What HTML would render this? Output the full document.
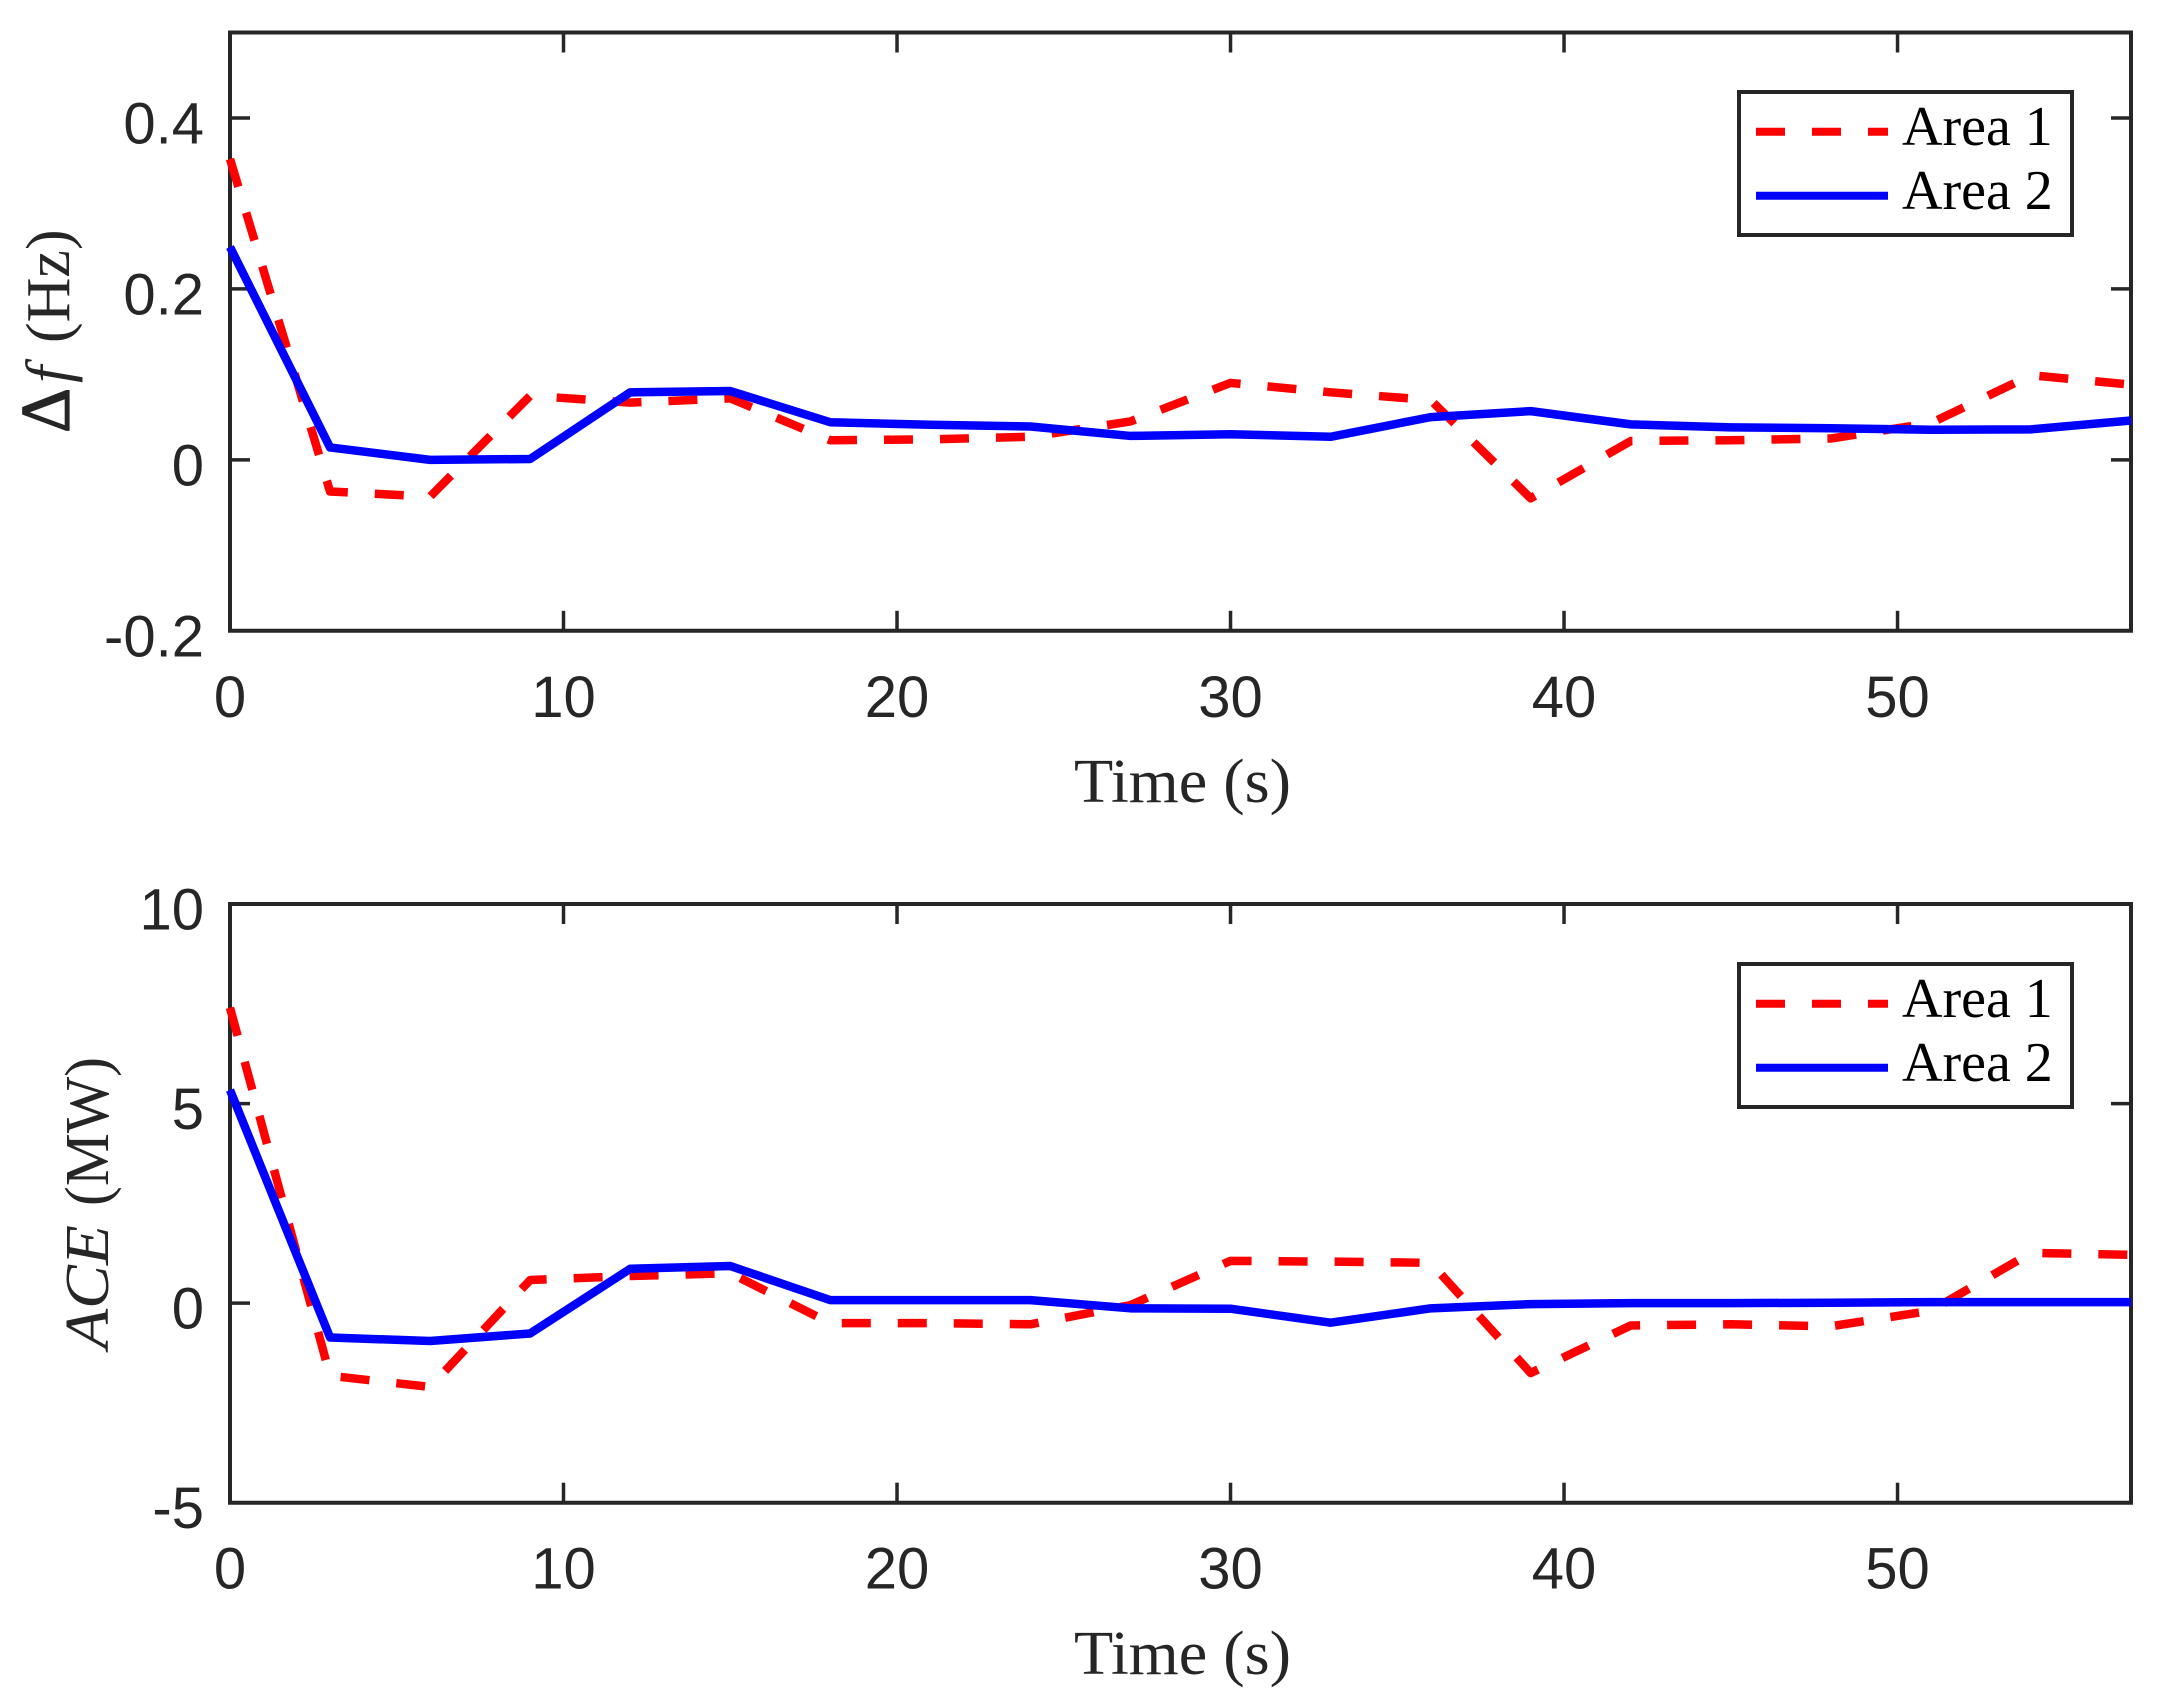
<!DOCTYPE html>
<html lang="en">
<head>
<meta charset="utf-8">
<title>Frequency deviation and ACE</title>
<style>
  html, body { margin: 0; padding: 0; background: #ffffff; }
  body { width: 2162px; height: 1702px; overflow: hidden; }
  svg { display: block; }
  .tick-label { font-family: "Liberation Sans", sans-serif; font-size: 58px; fill: #262626; }
  .axis-title { font-family: "Liberation Serif", serif; font-size: 62px; fill: #262626; }
  .legend-label { font-family: "Liberation Serif", serif; font-size: 56px; fill: #000000; }
</style>
</head>
<body>
<svg id="chart" xmlns="http://www.w3.org/2000/svg" width="2162" height="1702" viewBox="0 0 2162 1702">
  <rect x="0" y="0" width="2162" height="1702" fill="#ffffff"/>
  <g id="panel-top"></g>
  <g id="panel-bottom"></g>

  <text class="axis-title" transform="translate(69,433) rotate(-90)"><tspan x="0" font-size="70" stroke="#262626" stroke-width="1.2">Δ</tspan><tspan x="50" font-style="italic">f</tspan><tspan x="90">(Hz)</tspan></text>
  <text class="axis-title" x="1074" y="802" textLength="217" lengthAdjust="spacingAndGlyphs">Time (s)</text>
  <g transform="translate(108,1352) rotate(-90)">
    <text class="axis-title" x="3" y="0" font-style="italic" textLength="124" lengthAdjust="spacingAndGlyphs">ACE</text>
    <text class="axis-title" x="146" y="0" textLength="149" lengthAdjust="spacingAndGlyphs">(MW)</text>
  </g>
  <text class="axis-title" x="1074" y="1674" textLength="217" lengthAdjust="spacingAndGlyphs">Time (s)</text>

  <g>
    <rect x="1739" y="92" width="333" height="143" fill="#ffffff" stroke="#262626" stroke-width="4"/>
    <line x1="1756" y1="131.7" x2="1888" y2="131.7" stroke="#ff0000" stroke-width="8" stroke-dasharray="29 27"/>
    <text class="legend-label" x="1902" y="145">Area 1</text>
    <line x1="1756" y1="195.7" x2="1888" y2="195.7" stroke="#0000ff" stroke-width="8"/>
    <text class="legend-label" x="1902" y="209">Area 2</text>
  </g>
  <g>
    <rect x="1739" y="964" width="333" height="143" fill="#ffffff" stroke="#262626" stroke-width="4"/>
    <line x1="1756" y1="1003.7" x2="1888" y2="1003.7" stroke="#ff0000" stroke-width="8" stroke-dasharray="29 27"/>
    <text class="legend-label" x="1902" y="1017">Area 1</text>
    <line x1="1756" y1="1067.7" x2="1888" y2="1067.7" stroke="#0000ff" stroke-width="8"/>
    <text class="legend-label" x="1902" y="1081">Area 2</text>
  </g>
</svg>

<script>
const timeSeconds = [0, 3, 6, 9, 12, 15, 18, 21, 24, 27, 30, 33, 36, 39, 42, 45, 48, 51, 54, 57];

const frequencyArea1 = [0.352, -0.037, -0.043, 0.075, 0.067, 0.072, 0.023, 0.024, 0.027, 0.045, 0.090, 0.079, 0.070, -0.045, 0.022, 0.023, 0.025, 0.043, 0.099, 0.088];
const frequencyArea2 = [0.249, 0.0145, 0.000, 0.001, 0.079, 0.0805, 0.044, 0.041, 0.039, 0.028, 0.030, 0.027, 0.050, 0.057, 0.0415, 0.038, 0.037, 0.0353, 0.0357, 0.046];

const aceArea1 = [7.4, -1.82, -2.1, 0.58, 0.68, 0.75, -0.5, -0.5, -0.53, -0.05, 1.06, 1.04, 1.01, -1.75, -0.56, -0.53, -0.58, -0.19, 1.26, 1.21];
const aceArea2 = [5.34, -0.86, -0.95, -0.76, 0.86, 0.93, 0.075, 0.075, 0.075, -0.13, -0.14, -0.49, -0.13, -0.025, 0, 0, 0.01, 0.025, 0.025, 0.025];

const xTicks = [0, 10, 20, 30, 40, 50];
const frequencyTicks = [-0.2, 0, 0.2, 0.4];
const frequencyTickLabels = ["-0.2", "0", "0.2", "0.4"];
const aceTicks = [-5, 0, 5, 10];
const aceTickLabels = ["-5", "0", "5", "10"];

const SVG_NS = "http://www.w3.org/2000/svg";
const AXIS_COLOR = "#262626";
const TICK_LENGTH = 20;
const X_MIN = 0;
const X_MAX = 57;
const PLOT_LEFT = 230;
const PLOT_RIGHT = 2131;

function xScale(v) {
  return PLOT_LEFT + (v - X_MIN) / (X_MAX - X_MIN) * (PLOT_RIGHT - PLOT_LEFT);
}

function makeYScale(minV, maxV, bottomPx, topPx) {
  return function (v) {
    return bottomPx - (v - minV) / (maxV - minV) * (bottomPx - topPx);
  };
}

function drawAxisLine(parent, x1, y1, x2, y2, width, name) {
  const el = document.createElementNS(SVG_NS, "line");
  el.setAttribute("x1", x1);
  el.setAttribute("y1", y1);
  el.setAttribute("x2", x2);
  el.setAttribute("y2", y2);
  el.setAttribute("stroke", AXIS_COLOR);
  el.setAttribute("stroke-width", width);
  
  
  parent.appendChild(el);
}

function drawLabel(parent, x, y, anchor, content, name) {
  const el = document.createElementNS(SVG_NS, "text");
  el.setAttribute("x", x);
  el.setAttribute("y", y);
  el.setAttribute("text-anchor", anchor);
  el.setAttribute("class", "tick-label");
  
  
  el.textContent = content;
  parent.appendChild(el);
}

function drawSeries(parent, xs, ys, yScale, color, dashed, name) {
  const el = document.createElementNS(SVG_NS, "polyline");
  const pts = xs.map(function (x, i) {
    return xScale(x).toFixed(2) + "," + yScale(ys[i]).toFixed(2);
  });
  el.setAttribute("points", pts.join(" "));
  el.setAttribute("fill", "none");
  el.setAttribute("stroke", color);
  el.setAttribute("stroke-width", "8.5");
  el.setAttribute("stroke-linejoin", "round");
  if (dashed) {
    el.setAttribute("stroke-dasharray", "29 27");
  }
  
  
  parent.appendChild(el);
}

function drawPanel(parent, prefix, yScale, yMin, yMax, yTicks, yLabels, series1, series2) {
  const top = yScale(yMax);
  const bottom = yScale(yMin);

  xTicks.forEach(function (t) {
    const x = xScale(t);
    drawAxisLine(parent, x, bottom, x, bottom - TICK_LENGTH, 3.5, prefix + "-x-tick-bottom");
    drawAxisLine(parent, x, top, x, top + TICK_LENGTH, 3.5, prefix + "-x-tick-top");
    drawLabel(parent, x, bottom + 86, "middle", String(t), prefix + "-x-tick-label");
  });

  yTicks.forEach(function (t, i) {
    const y = yScale(t);
    drawAxisLine(parent, PLOT_LEFT, y, PLOT_LEFT + TICK_LENGTH, y, 3.5, prefix + "-y-tick-left");
    drawAxisLine(parent, PLOT_RIGHT, y, PLOT_RIGHT - TICK_LENGTH, y, 3.5, prefix + "-y-tick-right");
    drawLabel(parent, 204, y + 25.5, "end", yLabels[i], prefix + "-y-tick-label");
  });

  drawAxisLine(parent, PLOT_LEFT - 2, top, PLOT_RIGHT + 2, top, 4, prefix + "-axis-top");
  drawAxisLine(parent, PLOT_LEFT - 2, bottom, PLOT_RIGHT + 2, bottom, 4, prefix + "-axis-bottom");
  drawAxisLine(parent, PLOT_LEFT, top, PLOT_LEFT, bottom, 4, prefix + "-axis-left");
  drawAxisLine(parent, PLOT_RIGHT, top, PLOT_RIGHT, bottom, 4, prefix + "-axis-right");

  drawSeries(parent, timeSeconds, series1, yScale, "#ff0000", true, prefix + "-area-1-line");
  drawSeries(parent, timeSeconds, series2, yScale, "#0000ff", false, prefix + "-area-2-line");
}

const frequencyY = makeYScale(-0.2, 0.5, 630.8, 32.5);
const aceY = makeYScale(-5, 10, 1502.7, 904);

drawPanel(document.getElementById("panel-top"), "frequency", frequencyY, -0.2, 0.5,
  frequencyTicks, frequencyTickLabels, frequencyArea1, frequencyArea2);
drawPanel(document.getElementById("panel-bottom"), "ace", aceY, -5, 10,
  aceTicks, aceTickLabels, aceArea1, aceArea2);
</script>
</body>
</html>
